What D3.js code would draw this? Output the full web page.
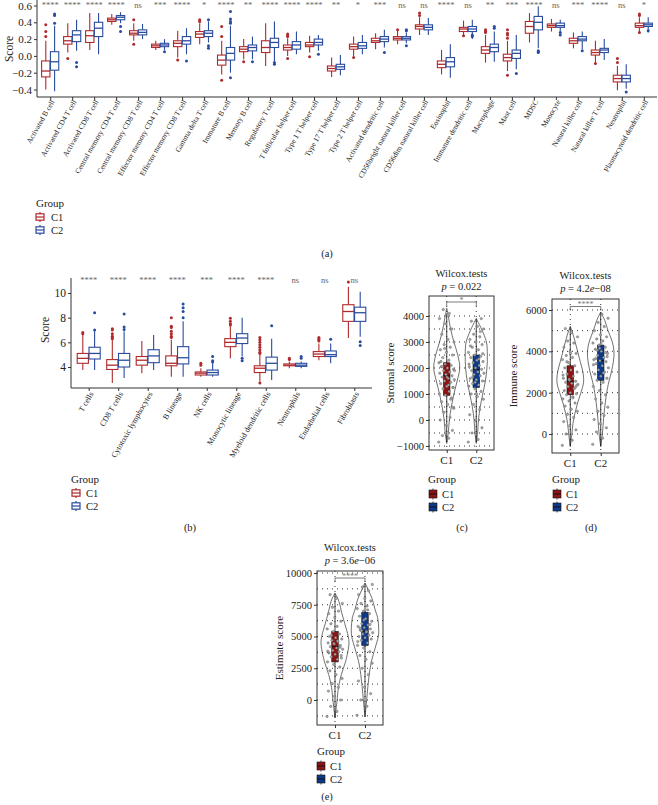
<!DOCTYPE html>
<html>
<head>
<meta charset="utf-8">
<script src="https://cdn.jsdelivr.net/npm/d3@7"></script>
<style>
body { margin:0; background:#fff; }
svg text { font-family: "Liberation Serif", "DejaVu Serif", serif; fill:#222; }
</style>
</head>
<body>
<svg id="chart" width="658" height="805"></svg>
<script>
const groups = ["C1", "C2"];
const lineColors = { C1: "#B02A2C", C2: "#2A4C9E" };
const fillColors = { C1: "#8C1414", C2: "#0E3A8A" };

/* ---------- Panel (a) ---------- */
const cellsA = ["Activated B cell","Activated CD4 T cell","Activated CD8 T cell","Central memory CD4 T cell","Central memory CD8 T cell","Effector memory CD4 T cell","Effector memory CD8 T cell","Gamma delta T cell","Immature B cell","Memory B cell","Regulatory T cell","T follicular helper cell","Type 1 T helper cell","Type 17 T helper cell","Type 2 T helper cell","Activated dendritic cell","CD56bright natural killer cell","CD56dim natural killer cell","Eosinophil","Immature dendritic cell","Macrophage","Mast cell","MDSC","Monocyte","Natural killer cell","Natural killer T cell","Neutrophil","Plasmacytoid dendritic cell"];
const sigA = ["****","****","****","****","ns","***","****","*","****","**","****","****","****","**","*","***","ns","ns","****","ns","**","***","****","ns","***","****","ns","*"];
// [lower whisker, Q1, median, Q3, upper whisker]
const boxA_C1 = [[-0.40,-0.25,-0.18,-0.06,0.18],[0.04,0.14,0.18,0.23,0.39],[0.07,0.16,0.24,0.30,0.51],[0.37,0.41,0.43,0.45,0.50],[0.18,0.25,0.27,0.30,0.39],[0.07,0.10,0.12,0.14,0.18],[-0.02,0.11,0.15,0.18,0.30],[0.14,0.22,0.26,0.29,0.39],[-0.22,-0.11,-0.05,0.01,0.18],[-0.04,0.05,0.08,0.11,0.20],[-0.12,0.04,0.10,0.18,0.39],[0.00,0.07,0.10,0.13,0.21],[0.04,0.11,0.13,0.16,0.24],[-0.25,-0.18,-0.15,-0.12,-0.02],[0.00,0.08,0.11,0.14,0.23],[0.08,0.16,0.18,0.21,0.27],[0.14,0.19,0.21,0.23,0.30],[0.25,0.32,0.35,0.37,0.46],[-0.22,-0.14,-0.10,-0.06,0.07],[0.23,0.29,0.32,0.34,0.42],[-0.08,0.03,0.07,0.11,0.25],[-0.18,-0.06,-0.02,0.02,0.18],[0.16,0.27,0.35,0.41,0.51],[0.29,0.34,0.36,0.38,0.44],[0.09,0.15,0.18,0.21,0.28],[-0.08,0.01,0.04,0.07,0.18],[-0.41,-0.31,-0.27,-0.23,-0.12],[0.27,0.34,0.36,0.39,0.46]];
const boxA_C2 = [[-0.42,-0.17,-0.07,0.05,0.36],[0.06,0.17,0.25,0.30,0.43],[0.02,0.23,0.33,0.40,0.51],[0.39,0.43,0.46,0.48,0.52],[0.20,0.25,0.28,0.31,0.38],[0.07,0.11,0.13,0.15,0.20],[0.02,0.14,0.18,0.23,0.33],[0.16,0.23,0.27,0.30,0.41],[-0.20,-0.05,0.03,0.10,0.36],[-0.04,0.06,0.10,0.13,0.23],[-0.06,0.10,0.16,0.21,0.41],[0.02,0.08,0.13,0.17,0.29],[0.06,0.13,0.16,0.20,0.25],[-0.23,-0.16,-0.13,-0.10,0.01],[0.02,0.09,0.12,0.16,0.25],[0.10,0.17,0.20,0.23,0.31],[0.15,0.19,0.21,0.23,0.28],[0.25,0.31,0.34,0.37,0.45],[-0.26,-0.13,-0.07,-0.02,0.14],[0.20,0.29,0.32,0.35,0.43],[-0.07,0.05,0.10,0.14,0.29],[-0.16,-0.03,0.03,0.07,0.25],[0.09,0.31,0.40,0.47,0.59],[0.29,0.34,0.36,0.39,0.43],[0.08,0.18,0.20,0.23,0.29],[-0.05,0.04,0.07,0.09,0.20],[-0.39,-0.31,-0.27,-0.23,-0.10],[0.28,0.35,0.37,0.39,0.46]];
const outA_C1 = [[0.37,0.29,0.23],[-0.03],[],[],[0.43,0.14],[],[-0.05],[0.43,0.41],[0.35,0.23,-0.29],[-0.07],[],[0.26,0.24,0.23,-0.03],[-0.01],[],[-0.02],[],[0.31],[0.51,0.48],[],[0.24],[0.31,0.29,0.28],[0.31,0.27,0.25,0.21,-0.23],[],[],[],[-0.09],[-0.03,-0.08],[0.50,0.48,0.28]];
const outA_C2 = [[0.50,0.48,0.39],[-0.08,-0.13],[],[0.35,0.29],[],[0.05],[-0.06],[0.43,0.12,0.09],[0.53,0.44,0.41,0.39,-0.26],[-0.07],[-0.08,-0.10],[],[0.02],[],[],[0.04],[0.31,0.30,0.12],[],[],[0.25,0.23],[0.35,0.33],[-0.21],[0.06,0.05,0.04],[0.28,0.25],[0.06],[],[-0.43],[0.30]];
const ticksA = [-0.4, -0.2, 0.0, 0.2, 0.4, 0.6];

/* ---------- Panel (b) ---------- */
const cellsB = ["T cells","CD8 T cells","Cytotoxic lymphocytes","B lineage","NK cells","Monocytic lineage","Myeloid dendritic cells","Neutrophils","Endothelial cells","Fibroblasts"];
const sigB = ["****","****","****","****","***","****","****","ns","ns","ns"];
const boxB_C1 = [[3.75,4.3,4.7,5.1,6.6],[2.7,3.8,4.15,4.6,6.2],[3.5,4.15,4.55,4.85,6.1],[3.2,4.1,4.3,4.9,6.2],[3.2,3.35,3.5,3.6,3.9],[4.7,5.65,6.0,6.3,7.3],[2.8,3.55,3.9,4.1,5.0],[3.9,4.1,4.15,4.25,4.45],[4.55,4.85,5.05,5.25,5.9],[6.35,7.7,8.5,9.05,10.5]];
const boxB_C2 = [[3.75,4.65,5.1,5.6,6.9],[3.1,4.0,4.55,5.1,6.9],[3.75,4.35,4.9,5.4,6.6],[3.2,4.25,4.75,5.65,7.7],[3.2,3.35,3.55,3.75,4.3],[4.85,5.9,6.35,6.7,8.0],[2.95,3.75,4.3,4.8,6.3],[3.9,4.05,4.15,4.3,4.45],[4.3,4.85,5.0,5.3,5.9],[6.45,7.7,8.4,8.85,10.1]];
const outB_C1 = [[6.8,6.7],[7.1,7.0,6.7,6.5,6.4,6.3],[],[8.0,7.3,7.2,6.9,6.7,6.5,6.4],[4.3,4.15],[7.95,7.7,7.5,7.4],[6.4,6.2,6.0,5.8,5.6,5.4,5.2,5.1,2.7],[4.7,4.6],[6.4,6.3,6.2,6.1],[10.9]];
const outB_C2 = [[8.4,7.0],[8.3,7.25,7.05],[],[9.1,8.8,8.5,8.0],[4.85,4.5,4.4],[4.7,4.5],[7.35],[4.85,4.7],[6.25],[6.05,5.75]];
const ticksB = [4, 6, 8, 10];

/* ---------- Panel (c) Stromal score ---------- */
const boxC_C1 = [-850, 950, 1700, 2200, 4100];
const boxC_C2 = [-850, 1250, 1950, 2500, 3900];
const densC_C1 = [[-900,0],[-500,0.12],[0,0.2],[500,0.35],[1000,0.55],[1500,0.8],[2000,1],[2500,0.85],[3000,0.55],[3500,0.3],[4000,0.12],[4300,0]];
const densC_C2 = [[-900,0],[-500,0.1],[0,0.17],[500,0.3],[1000,0.5],[1500,0.7],[2000,0.82],[2500,0.85],[3000,0.78],[3500,0.4],[3900,0]];
const ptsC_C1 = [-850,-700,-600,-400,-200,0,100,300,450,600,700,850,950,1000,1100,1200,1250,1300,1400,1450,1500,1550,1600,1650,1700,1750,1800,1850,1900,1950,2000,2050,2100,2150,2200,2300,2400,2500,2600,2700,2800,2900,3000,3100,3300,3500,3700,3900,4100,4250,1250,1650,2250,800,2750,1900,1350,2050,500];
const ptsC_C2 = [-850,-750,-500,-300,0,200,400,600,800,900,1000,1100,1200,1300,1350,1400,1500,1550,1600,1700,1750,1800,1850,1900,1950,2000,2050,2100,2200,2250,2300,2400,2450,2500,2600,2700,2800,2900,3000,3100,3200,3300,3500,3600,3800,3900,1450,2150,2350,1650,2550,1000,2850,3400];
const ticksC = [-1000, 0, 1000, 2000, 3000, 4000];
const gridC = [-1000,-500,0,500,1000,1500,2000,2500,3000,3500,4000];

/* ---------- Panel (d) Immune score ---------- */
const boxD_C1 = [-600, 1900, 2550, 3300, 5200];
const boxD_C2 = [-600, 2600, 3550, 4300, 5900];
const densD_C1 = [[-600,0],[0,0.12],[500,0.2],[1000,0.35],[1500,0.55],[2000,0.8],[2500,1],[3000,0.95],[3500,0.75],[4000,0.55],[4500,0.35],[5000,0.12],[5200,0]];
const densD_C2 = [[-600,0],[0,0.12],[1000,0.25],[2000,0.45],[2500,0.6],[3000,0.8],[3500,0.95],[4000,1],[4500,0.85],[5000,0.55],[5500,0.3],[5900,0]];
const ptsD_C1 = [-550,-300,0,200,400,600,800,950,1100,1200,1350,1500,1600,1700,1800,1900,1950,2000,2100,2200,2300,2400,2450,2500,2550,2600,2700,2800,2900,3000,3100,3200,3300,3450,3600,3700,3800,3900,4000,4200,4400,4500,4700,4900,5100,2250,2650,2850,1750,3500,2350,3900];
const ptsD_C2 = [-500,-200,100,300,500,700,900,1100,1300,1500,1700,1900,2100,2300,2500,2600,2700,2800,2900,3000,3100,3200,3300,3400,3500,3550,3600,3700,3800,3900,4000,4100,4200,4300,4400,4500,4600,4700,4800,5000,5200,5400,5600,5800,3650,3950,4150,3350,2950,4050,3750,4350];
const ticksD = [0, 2000, 4000, 6000];
const gridD = [0,1000,2000,3000,4000,5000,6000];

/* ---------- Panel (e) Estimate score ---------- */
const boxE_C1 = [-1400, 3000, 4200, 5400, 8400];
const boxE_C2 = [-1300, 4300, 5400, 6900, 9200];
const densE_C1 = [[-1400,0],[-500,0.1],[0,0.15],[1000,0.25],[2000,0.45],[3000,0.75],[4000,0.95],[4500,1],[5000,0.95],[6000,0.7],[7000,0.45],[7500,0.35],[8000,0.2],[8400,0]];
const densE_C2 = [[-1300,0],[0,0.12],[1000,0.2],[2000,0.3],[3000,0.45],[4000,0.7],[5000,0.95],[5500,0.98],[6500,0.9],[7000,0.75],[8000,0.5],[8500,0.3],[9000,0.1],[9200,0]];
const ptsE_C1 = [-1300,-900,-500,0,300,700,1000,1300,1700,2000,2300,2600,2800,3000,3200,3400,3500,3600,3700,3800,3900,4000,4100,4200,4300,4400,4500,4600,4700,4800,4900,5000,5200,5400,5600,5800,6000,6200,6500,6800,7000,7300,7600,8000,8300,4150,4450,3850,4650,5100,3300];
const ptsE_C2 = [-1200,-500,0,500,1000,1500,2000,2500,2900,3200,3500,3800,4100,4300,4500,4700,4800,4900,5000,5100,5200,5300,5400,5500,5600,5700,5800,5900,6000,6200,6400,6600,6800,7000,7200,7400,7600,7800,8000,8300,8600,8900,9100,5350,5650,5950,6300,4600,7100,5450];
const ticksE = [0, 2500, 5000, 7500, 10000];
const gridE = [-1250,0,1250,2500,3750,5000,6250,7500,8750,10000];

/* ================= drawing ================= */
const svg = d3.select("#chart");
svg.append("rect").attr("width", 658).attr("height", 805).attr("fill", "#fff");

function boxLegend(gx, gy, keyX, textX, y1, y2) {
  const g = svg.append("g");
  g.append("text").attr("x", gx).attr("y", gy).attr("font-size", 11).text("Group");
  [["C1", y1], ["C2", y2]].forEach(([grp, cy]) => {
    const col = lineColors[grp];
    g.append("line").attr("x1", keyX).attr("x2", keyX).attr("y1", cy - 5).attr("y2", cy + 5).attr("stroke", col).attr("stroke-width", 1.2);
    g.append("rect").attr("x", keyX - 4).attr("y", cy - 3.2).attr("width", 8).attr("height", 6.4).attr("fill", "#fff").attr("stroke", col).attr("stroke-width", 1.2);
    g.append("line").attr("x1", keyX - 4).attr("x2", keyX + 4).attr("y1", cy).attr("y2", cy).attr("stroke", col).attr("stroke-width", 1.2);
    g.append("text").attr("x", textX).attr("y", cy + 3.6).attr("font-size", 10.5).text(grp);
  });
}

function violinLegend(gx, gy, keyX, textX, y1, y2) {
  const g = svg.append("g");
  g.append("text").attr("x", gx).attr("y", gy).attr("font-size", 11).text("Group");
  [["C1", y1], ["C2", y2]].forEach(([grp, cy]) => {
    g.append("line").attr("x1", keyX).attr("x2", keyX).attr("y1", cy - 5.5).attr("y2", cy + 5.5).attr("stroke", "#111").attr("stroke-width", 0.8);
    g.append("rect").attr("x", keyX - 4).attr("y", cy - 4).attr("width", 8).attr("height", 8).attr("fill", fillColors[grp]).attr("stroke", "#111").attr("stroke-width", 0.6);
    g.append("line").attr("x1", keyX - 4).attr("x2", keyX + 4).attr("y1", cy).attr("y2", cy).attr("stroke", "#111").attr("stroke-width", 1);
    g.append("text").attr("x", textX).attr("y", cy + 3.6).attr("font-size", 10.5).text(grp);
  });
}

function boxPanel(o) {
  const g = svg.append("g");
  const x = d3.scalePoint().domain(o.cats).range([o.x0, o.x1]).padding(0.6);
  const y = d3.scaleLinear().domain(o.yDomain).range(o.yRange);
  const step = x.step();
  const bw = step * 0.38, off = step * 0.2;

  const ya = g.append("g").attr("transform", `translate(${o.x0},0)`).attr("color", "#333")
    .call(d3.axisLeft(y).tickValues(o.ticks).tickSize(3).tickPadding(2).tickFormat(o.fmt));
  ya.select(".domain").remove();
  ya.selectAll("text").attr("font-size", o.tickFont);
  const xa = g.append("g").attr("transform", `translate(0,${o.yBottom})`).attr("color", "#333")
    .call(d3.axisBottom(x).tickSize(3).tickFormat(""));
  xa.select(".domain").remove();
  g.append("line").attr("x1", o.x0).attr("x2", o.x0).attr("y1", o.yTop).attr("y2", o.yBottom).attr("stroke", "#333");
  g.append("line").attr("x1", o.x0).attr("x2", o.x1).attr("y1", o.yBottom).attr("y2", o.yBottom).attr("stroke", "#333");

  g.selectAll(".xl").data(o.cats).join("text")
    .attr("transform", d => `translate(${x(d) + o.lblDx},${o.lblY}) rotate(-60)`)
    .attr("text-anchor", "end").attr("dy", "0.72em").attr("font-size", o.lblFont).text(d => d);

  g.selectAll(".sig").data(o.cats).join("text")
    .attr("x", d => x(d)).attr("y", o.sigY).attr("text-anchor", "middle")
    .attr("font-size", o.sigFont).style("fill", "#666").text((d, i) => o.sig[i]);

  g.append("text").attr("transform", `translate(${o.ylabX},${o.ylabY}) rotate(-90)`)
    .attr("text-anchor", "middle").attr("dy", "0.35em").attr("font-size", 11.5).text("Score");

  [[o.box1, o.out1, "C1", -off], [o.box2, o.out2, "C2", off]].forEach(([bx, out, grp, dx]) => {
    const col = lineColors[grp];
    o.cats.forEach((c, i) => {
      const cx = x(c) + dx, s = bx[i];
      g.append("line").attr("x1", cx).attr("x2", cx).attr("y1", y(s[0])).attr("y2", y(s[4])).attr("stroke", col).attr("stroke-width", 1.1);
      g.append("rect").attr("x", cx - bw / 2).attr("width", bw).attr("y", y(s[3])).attr("height", Math.max(0.5, y(s[1]) - y(s[3])))
        .attr("fill", "#fff").attr("stroke", col).attr("stroke-width", 1.1);
      g.append("line").attr("x1", cx - bw / 2).attr("x2", cx + bw / 2).attr("y1", y(s[2])).attr("y2", y(s[2])).attr("stroke", col).attr("stroke-width", 1.3);
      out[i].forEach(v => g.append("circle").attr("cx", cx).attr("cy", y(v)).attr("r", 1.5).attr("fill", col));
    });
  });
}

function violinPanel(o) {
  const g = svg.append("g");
  const x = d3.scalePoint().domain(groups).range([o.left, o.right]).padding(0.6);
  const y = d3.scaleLinear().domain(o.yDomain).range(o.yRange);
  const cxm = (o.left + o.right) / 2;

  // dotted grid
  g.selectAll(".gh").data(o.grid).join("line")
    .attr("x1", o.left).attr("x2", o.right).attr("y1", d => y(d)).attr("y2", d => y(d))
    .attr("stroke", "#333").attr("stroke-width", 1).attr("stroke-dasharray", "1,4");
  g.selectAll(".gv").data(groups).join("line")
    .attr("x1", d => x(d)).attr("x2", d => x(d)).attr("y1", o.top).attr("y2", o.bottom)
    .attr("stroke", "#333").attr("stroke-width", 1).attr("stroke-dasharray", "1,4");

  // violins
  [[o.dens1, "C1"], [o.dens2, "C2"]].forEach(([dens, grp]) => {
    const cx = x(grp);
    const area = d3.area().x0(d => cx - o.vw * d[1]).x1(d => cx + o.vw * d[1]).y(d => y(d[0])).curve(d3.curveCatmullRom);
    g.append("path").datum(dens).attr("d", area).attr("fill", "none").attr("stroke", "#333").attr("stroke-width", 0.7);
  });

  // boxes
  const bw = 6.5;
  [[o.box1, "C1"], [o.box2, "C2"]].forEach(([s, grp]) => {
    const cx = x(grp);
    g.append("line").attr("x1", cx).attr("x2", cx).attr("y1", y(s[0])).attr("y2", y(s[4])).attr("stroke", "#111").attr("stroke-width", 0.8);
    g.append("rect").attr("x", cx - bw / 2).attr("width", bw).attr("y", y(s[3])).attr("height", y(s[1]) - y(s[3]))
      .attr("fill", fillColors[grp]).attr("stroke", "#111").attr("stroke-width", 0.6);
    g.append("line").attr("x1", cx - bw / 2).attr("x2", cx + bw / 2).attr("y1", y(s[2])).attr("y2", y(s[2])).attr("stroke", "#111").attr("stroke-width", 1);
  });

  // jittered points (horizontal spread only; values from the arrays)
  [[o.pts1, "C1"], [o.pts2, "C2"]].forEach(([pts, grp]) => {
    const cx = x(grp);
    pts.forEach((v, i) => {
      const jx = (((i * 0.6180339887) % 1) - 0.5) * 2 * o.jw;
      g.append("circle").attr("cx", cx + jx).attr("cy", y(v)).attr("r", 1.2)
        .attr("fill", "#aaa").attr("stroke", "#555").attr("stroke-width", 0.4);
    });
  });

  // border
  g.append("rect").attr("x", o.left).attr("y", o.top).attr("width", o.right - o.left).attr("height", o.bottom - o.top)
    .attr("fill", "none").attr("stroke", "#333").attr("stroke-width", 1);

  // axes
  const ya = g.append("g").attr("transform", `translate(${o.left},0)`).attr("color", "#333")
    .call(d3.axisLeft(y).tickValues(o.ticks).tickSize(3).tickPadding(2).tickFormat(d3.format("d")));
  ya.select(".domain").remove();
  ya.selectAll("text").attr("font-size", 10.5);
  const xa = g.append("g").attr("transform", `translate(0,${o.bottom})`).attr("color", "#333")
    .call(d3.axisBottom(x).tickSize(3).tickFormat(""));
  xa.select(".domain").remove();
  g.selectAll(".xl").data(groups).join("text").attr("x", d => x(d)).attr("y", o.xlabY)
    .attr("text-anchor", "middle").attr("font-size", 11).text(d => d);

  g.append("text").attr("transform", `translate(${o.ylabX},${(o.top + o.bottom) / 2}) rotate(-90)`)
    .attr("text-anchor", "middle").attr("font-size", 11).text(o.ylab);

  // titles
  g.append("text").attr("x", cxm).attr("y", o.titleY).attr("text-anchor", "middle").attr("font-size", 10.5).text("Wilcox.tests");
  const pt = g.append("text").attr("x", cxm).attr("y", o.titleY + 13).attr("text-anchor", "middle").attr("font-size", 10.5);
  pt.append("tspan").attr("font-style", "italic").text("p");
  pt.append("tspan").text(" = " + o.pMant);
  if (o.pExp) {
    pt.append("tspan").attr("font-style", "italic").text("e");
    pt.append("tspan").text(o.pExp);
  }

  // significance bracket
  const x1 = x("C1"), x2 = x("C2");
  g.append("path").attr("d", `M${x1},${o.brY + 4}V${o.brY}H${x2}V${o.brY + 4}`)
    .attr("fill", "none").attr("stroke", "#444").attr("stroke-width", 0.7);
  g.append("text").attr("x", (x1 + x2) / 2).attr("y", o.brY + 0.5).attr("text-anchor", "middle")
    .attr("font-size", 8).style("fill", "#777").text(o.sig);
}

boxPanel({
  cats: cellsA, sig: sigA, box1: boxA_C1, box2: boxA_C2, out1: outA_C1, out2: outA_C2,
  ticks: ticksA, fmt: d3.format(".1f"), tickFont: 11,
  x0: 37, x1: 657, yTop: 0, yBottom: 97, yDomain: [-0.4, 0.6], yRange: [89.5, 5.5],
  lblDx: 0, lblY: 99, lblFont: 7.5, sigY: 7.5, sigFont: 8.5, ylabX: 9, ylabY: 49
});
boxLegend(36, 207, 40, 51, 217, 230);
svg.append("text").attr("x", 327).attr("y", 257).attr("text-anchor", "middle").attr("font-size", 10.5).text("(a)");

boxPanel({
  cats: cellsB, sig: sigB, box1: boxB_C1, box2: boxB_C2, out1: outB_C1, out2: outB_C2,
  ticks: ticksB, fmt: d3.format("d"), tickFont: 11.5,
  x0: 71, x1: 372, yTop: 278, yBottom: 388, yDomain: [4, 10], yRange: [367, 293],
  lblDx: 0, lblY: 391, lblFont: 8, sigY: 283, sigFont: 8.5, ylabX: 45, ylabY: 330
});
boxLegend(71, 483, 76, 86, 493, 506);
svg.append("text").attr("x", 190).attr("y", 531).attr("text-anchor", "middle").attr("font-size", 10.5).text("(b)");

violinPanel({
  left: 429, right: 494, top: 296, bottom: 450, yDomain: [-1000, 4000], yRange: [446, 316],
  ticks: ticksC, grid: gridC, dens1: densC_C1, dens2: densC_C2, box1: boxC_C1, box2: boxC_C2,
  pts1: ptsC_C1, pts2: ptsC_C2, vw: 13, jw: 8, ylab: "Stromal score", ylabX: 394,
  titleY: 277, pMant: "0.022", pExp: null, sig: "*", brY: 302, xlabY: 464
});
violinLegend(428, 483, 433, 442, 494, 507);
svg.append("text").attr("x", 462).attr("y", 531).attr("text-anchor", "middle").attr("font-size", 10.5).text("(c)");

violinPanel({
  left: 552, right: 619, top: 299, bottom: 453, yDomain: [0, 6000], yRange: [434, 310],
  ticks: ticksD, grid: gridD, dens1: densD_C1, dens2: densD_C2, box1: boxD_C1, box2: boxD_C2,
  pts1: ptsD_C1, pts2: ptsD_C2, vw: 13.3, jw: 8, ylab: "Immune score", ylabX: 517,
  titleY: 279, pMant: "4.2", pExp: "−08", sig: "****", brY: 306.5, xlabY: 467
});
violinLegend(552, 483, 557, 566, 494, 507);
svg.append("text").attr("x", 591).attr("y", 531).attr("text-anchor", "middle").attr("font-size", 10.5).text("(d)");

violinPanel({
  left: 317, right: 383, top: 571, bottom: 725, yDomain: [0, 10000], yRange: [700, 573],
  ticks: ticksE, grid: gridE, dens1: densE_C1, dens2: densE_C2, box1: boxE_C1, box2: boxE_C2,
  pts1: ptsE_C1, pts2: ptsE_C2, vw: 14, jw: 8, ylab: "Estimate score", ylabX: 283,
  titleY: 551, pMant: "3.6", pExp: "−06", sig: "****", brY: 578, xlabY: 739
});
violinLegend(317, 755, 321, 330, 766, 779);
svg.append("text").attr("x", 327).attr("y", 800).attr("text-anchor", "middle").attr("font-size", 10.5).text("(e)");
</script>
</body>
</html>
